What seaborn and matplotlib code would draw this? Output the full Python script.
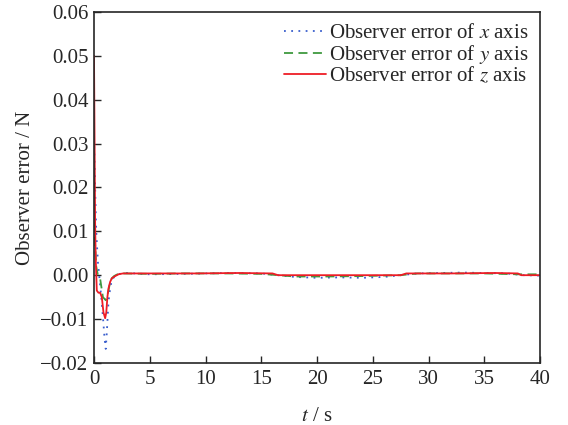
import numpy as np
import pandas as pd
import matplotlib
matplotlib.use('Agg')
from matplotlib import pyplot as plt
from matplotlib.ticker import FuncFormatter, MultipleLocator
import seaborn as sns

# Observer error traces (t in s, error in N)
t_x = [0, 0.1, 0.2, 0.35, 0.5, 0.65, 0.8, 0.95, 1.05, 1.15, 1.3, 1.45, 1.6, 1.9, 2.3, 3,
       5, 8, 12, 15, 16.5, 18, 20, 22, 24, 26, 27.5, 29, 31, 33, 35, 37, 38.5, 40]
err_x = [0.031, 0.020, 0.010, 0.003, -0.001, -0.005, -0.0095, -0.0145, -0.0168, -0.013, -0.006,
         -0.003, -0.001, -0.0002, 0.0003, 0.0005,
         0.0002, 0.0003, 0.0005, 0.0004, 0.0, -0.0004, -0.0006, -0.0005, -0.0006, -0.0004, 0.0,
         0.0004, 0.0005, 0.0006, 0.0005, 0.0004, 0.0, -0.0001]

t_y = [0, 0.1, 0.2, 0.35, 0.55, 0.8, 1.05, 1.3, 1.45, 1.6, 1.8, 2.1, 2.6,
       5, 8, 12, 15, 16.5, 18, 21, 24, 27.5, 29, 32, 35, 38, 40]
err_y = [0.012, 0.007, 0.002, 0.0, -0.0008, -0.005, -0.0057, -0.0035, -0.0015, -0.0007, -0.0002, 0.0002, 0.0004,
         0.0003, 0.0004, 0.0004, 0.0003, 0.0, -0.0003, -0.0003, -0.0002, 0.0, 0.0004, 0.0004, 0.0004, 0.0002, 0.0002]

t_z = [0, 0.05, 0.1, 0.15, 0.25, 0.4, 0.55, 0.7, 0.85, 1.0, 1.1, 1.2, 1.3, 1.45, 1.6, 1.9, 2.2, 2.6,
       5, 9, 13, 16, 16.5, 20, 24, 27.5, 28, 32, 36, 38, 38.3, 40]
err_z = [0.050, 0.031, 0.012, 0.004, -0.0035, -0.004, -0.004, -0.005, -0.0085, -0.0098, -0.0085, -0.005, -0.003,
         -0.0015, -0.0007, -0.0002, 0.0002, 0.0004,
         0.0004, 0.0004, 0.0005, 0.0004, 0.0, 0.0, 0.0, 0.0, 0.0004, 0.0004, 0.0005, 0.0004, 0.0, 0.0]

labels = ['Observer error of $x$ axis', 'Observer error of $y$ axis', 'Observer error of $z$ axis']

sns.set_style('ticks')
plt.rcParams['font.family'] = ['Liberation Serif', 'DejaVu Serif']
plt.rcParams['mathtext.fontset'] = 'stix'

fig = plt.figure(figsize=(5.68, 4.25), dpi=100)
ax = fig.add_axes([0.1655, 0.146, 0.7855, 0.826])

sns.lineplot(x=t_x, y=err_x, ax=ax, color='#3a5fcd', linestyle=(0, (1, 3)), linewidth=1.3, label=labels[0])
sns.lineplot(x=t_y, y=err_y, ax=ax, color='#3f9a3f', linestyle=(0, (5, 3)), linewidth=1.3, label=labels[1])
sns.lineplot(x=t_z, y=err_z, ax=ax, color='#ee1c25', linestyle='-', linewidth=1.3, label=labels[2])

ax.set_xlim(0, 40)
ax.set_ylim(-0.02, 0.06)
ax.xaxis.set_major_locator(MultipleLocator(5))
ax.yaxis.set_major_locator(MultipleLocator(0.01))
ax.yaxis.set_major_formatter(FuncFormatter(lambda v, p: ('%.2f' % v).replace('-', '\u2212')))
ax.tick_params(direction='in', length=5, width=1.0, labelsize=15, pad=4)
ax.tick_params(axis='x', pad=5)
for s in ax.spines.values():
    s.set_linewidth(1.2)
ax.set_xlabel('$t$ / s', fontsize=15, labelpad=13)
ax.set_ylabel('Observer error / N', fontsize=15, labelpad=4)

ax.legend(loc='upper right', frameon=False, fontsize=15, handlelength=2.0, handletextpad=0.15,
          labelspacing=0.0, borderaxespad=0.35, borderpad=0.2)

plt.savefig('out.png', dpi=100)
